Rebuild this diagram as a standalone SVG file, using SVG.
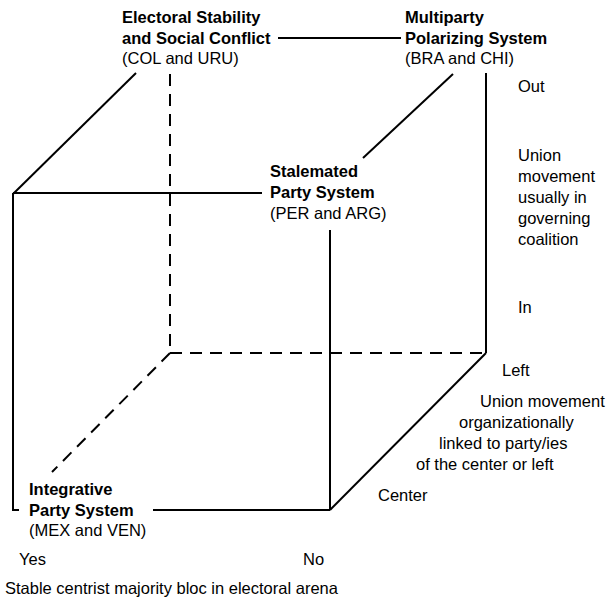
<svg xmlns="http://www.w3.org/2000/svg" width="609" height="601" viewBox="0 0 609 601">
<style>
text{font-family:"Liberation Sans",Arial,Helvetica,sans-serif;font-size:16.5px;fill:#000}
.b{font-weight:bold}
.ln{stroke:#000;stroke-width:2;fill:none}
.d{stroke-dasharray:12 8}
</style>
<rect width="609" height="601" fill="#fff"/>
<g id="connectors">
<line class="ln" x1="278" y1="38" x2="401" y2="38"/>
<line class="ln" x1="13" y1="194" x2="136" y2="73"/>
<line class="ln d" x1="170" y1="74" x2="170" y2="353"/>
<line class="ln" x1="13" y1="193" x2="262" y2="193"/>
<polyline class="ln" points="13,193 13,510 19,510"/>
<line class="ln" x1="153" y1="510" x2="330" y2="510"/>
<line class="ln" x1="330" y1="230" x2="330" y2="510"/>
<line class="ln" x1="330" y1="510" x2="486" y2="353"/>
<line class="ln" x1="486" y1="73" x2="486" y2="353"/>
<line class="ln" x1="453" y1="74" x2="363" y2="158"/>
<line class="ln d" x1="170" y1="353" x2="486" y2="353"/>
<line class="ln d" x1="170" y1="353" x2="52" y2="472"/>
</g>
<g id="node-electoral">
<text class="b" x="122" y="23">Electoral Stability</text>
<text class="b" x="122" y="44">and Social Conflict</text>
<text x="122" y="64">(COL and URU)</text>
</g>
<g id="node-multiparty">
<text class="b" x="405" y="23">Multiparty</text>
<text class="b" x="405" y="44">Polarizing System</text>
<text x="405" y="64">(BRA and CHI)</text>
</g>
<g id="node-stalemated">
<text class="b" x="270" y="177">Stalemated</text>
<text class="b" x="270" y="198">Party System</text>
<text x="270" y="219">(PER and ARG)</text>
</g>
<g id="node-integrative">
<text class="b" x="29" y="495">Integrative</text>
<text class="b" x="29" y="516">Party System</text>
<text x="29" y="536">(MEX and VEN)</text>
</g>
<g id="labels">
<text x="518" y="92">Out</text>
<text x="518" y="161">Union</text>
<text x="518" y="182">movement</text>
<text x="518" y="203">usually in</text>
<text x="518" y="224">governing</text>
<text x="518" y="245">coalition</text>
<text x="518" y="313">In</text>
<text x="502" y="376">Left</text>
<text x="480" y="407">Union movement</text>
<text x="459" y="428">organizationally</text>
<text x="439" y="449">linked to party/ies</text>
<text x="416" y="470">of the center or left</text>
<text x="378" y="501">Center</text>
<text x="19" y="565">Yes</text>
<text x="303" y="565">No</text>
<text x="5" y="594">Stable centrist majority bloc in electoral arena</text>
</g>
</svg>
